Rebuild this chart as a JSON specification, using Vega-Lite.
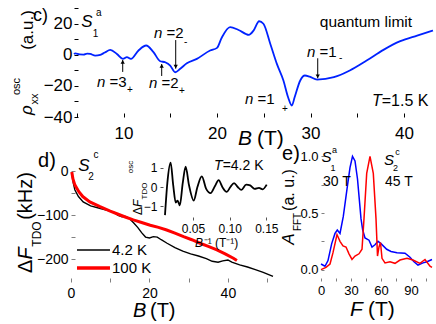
{
  "$schema": "https://vega.github.io/schema/vega-lite/v6.json",
  "width": 436,
  "height": 324,
  "autosize": {"type": "none"},
  "padding": 0,
  "config": {
    "view": {"stroke": null},
    "font": "Liberation Sans",
    "text": {"font": "Liberation Sans", "color": "black", "baseline": "middle"},
    "axis": {"grid": false, "domain": false, "labelFont": "Liberation Sans", "labelColor": "black", "labelFlush": false, "labelOverlap": false}
  },
  "datasets": {
    "cline": [{"x":4.7,"y":0.5},{"x":4.84,"y":1.0},{"x":5.3,"y":0.3},{"x":5.72,"y":0.2},{"x":6.1,"y":0.8},{"x":6.44,"y":0.6},{"x":6.97,"y":-0.5},{"x":7.51,"y":0},{"x":8.0,"y":1.5},{"x":8.58,"y":3.2},{"x":9.29,"y":0.6},{"x":9.93,"y":-2.6},{"x":10.36,"y":-1.5},{"x":10.79,"y":-2.6},{"x":11.6,"y":2.8},{"x":12.42,"y":6},{"x":13.2,"y":1.7},{"x":13.92,"y":-4.1},{"x":14.46,"y":-4.8},{"x":14.99,"y":-6.9},{"x":15.52,"y":-11.2},{"x":16.06,"y":-9},{"x":16.77,"y":-5.4},{"x":17.84,"y":-2.6},{"x":19.26,"y":2.8},{"x":20.0,"y":4.5},{"x":20.5,"y":11},{"x":21.4,"y":17.8},{"x":22.3,"y":16},{"x":23.4,"y":12.9},{"x":23.9,"y":15.6},{"x":24.5,"y":21.6},{"x":24.96,"y":20},{"x":25.7,"y":7},{"x":26.4,"y":-5.8},{"x":27.1,"y":-16.5},{"x":27.6,"y":-27.3},{"x":28.0,"y":-32.6},{"x":28.3,"y":-27.3},{"x":28.9,"y":-16.5},{"x":29.4,"y":-13.3},{"x":29.9,"y":-14.0},{"x":30.7,"y":-15.9},{"x":32.5,"y":-14.4},{"x":34.2,"y":-10.1},{"x":36.0,"y":-3.7},{"x":37.8,"y":3.2},{"x":39.6,"y":8.8},{"x":41.4,"y":12.4},{"x":43.1,"y":15.6}],
    "c_arr": [{"x":9.91,"y":-11.0,"y2":-3.3},{"x":14.08,"y":-13.6,"y2":-5.9},{"x":15.58,"y":9.5,"y2":-8.9},{"x":30.77,"y":-2.2,"y2":-15.1}],
    "c_up": [{"x":9.91,"y":-4.5},{"x":14.08,"y":-7.1}],
    "c_dn": [{"x":15.58,"y":-7.6},{"x":30.77,"y":-13.8}],
    "c_ni": [{"x":7.16,"y":-17.48,"t":"n"},{"x":12.72,"y":-18.12,"t":"n"},{"x":13.26,"y":14.05,"t":"n"},{"x":22.99,"y":-28.42,"t":"n"},{"x":29.62,"y":1.83,"t":"n"}],
    "c_eq": [{"x":8.5,"y":-17.48,"t":"=3"},{"x":14.06,"y":-18.12,"t":"=2"},{"x":14.59,"y":14.05,"t":"=2"},{"x":24.33,"y":-28.42,"t":"=1"},{"x":30.96,"y":1.83,"t":"=1"}],
    "c_sub": [{"x":10.37,"y":-22.63,"t":"+"},{"x":15.93,"y":-23.27,"t":"+"},{"x":16.47,"y":8.26,"t":"-"},{"x":26.95,"y":-34.85,"t":"+"},{"x":33.05,"y":-2.04,"t":"-"}],
    "c_q": [{"x":35.93,"y":21.13,"t":"quantum limit"}],
    "c_Ti": [{"x":36.57,"y":-29.51,"t":"T"}],
    "c_T": [{"x":37.62,"y":-29.51,"t":"=1.5 K"}],
    "c_S": [{"x":6.09,"y":21.13,"t":"S"}],
    "c_Ssub": [{"x":7.0,"y":13.4,"t":"1"},{"x":7.35,"y":26.9,"t":"a"}],
    "c_lab": [{"x":1.12,"y":24.67,"t":"c)"}],
    "c_yt": [{"x":-0.19,"y":15.98,"t":"(a.u.)"}],
    "c_rho": [{"x":-0.33,"y":-35.5,"t":"ρ"}],
    "c_ysub": [{"x":0.53,"y":-28.42,"t":"xx"},{"x":-1.45,"y":-20.37,"t":"osc"}],
    "c_xB": [{"x":22.24,"y":-54.2,"t":"B"}],
    "c_xT": [{"x":24.27,"y":-54.2,"t":"(T)"}],
    "dblack": [{"x":0.2,"y":-5},{"x":0.6,"y":-28},{"x":1.0,"y":-43},{"x":1.9,"y":-58},{"x":3.1,"y":-70},{"x":5.0,"y":-79},{"x":7.5,"y":-85},{"x":9.5,"y":-90},{"x":11.0,"y":-94},{"x":12.0,"y":-101},{"x":13.0,"y":-104},{"x":14.0,"y":-103},{"x":15.0,"y":-109},{"x":16.0,"y":-118},{"x":17.0,"y":-128},{"x":18.0,"y":-140},{"x":19.0,"y":-150},{"x":20.0,"y":-152},{"x":21.0,"y":-149},{"x":22.0,"y":-150},{"x":23.0,"y":-156},{"x":24.5,"y":-164},{"x":26.5,"y":-174},{"x":28.5,"y":-182},{"x":30.5,"y":-188},{"x":32.5,"y":-193},{"x":34.5,"y":-199},{"x":36.0,"y":-205},{"x":37.5,"y":-207},{"x":38.7,"y":-204},{"x":40.0,"y":-202},{"x":41.0,"y":-207},{"x":43.0,"y":-213},{"x":45.0,"y":-218},{"x":47.0,"y":-224},{"x":49.0,"y":-230},{"x":51.5,"y":-239}],
    "dred": [{"x":0.2,"y":-2},{"x":0.5,"y":-18},{"x":1.0,"y":-32},{"x":2.0,"y":-47},{"x":3.0,"y":-58},{"x":4.8,"y":-70},{"x":7.4,"y":-81},{"x":10.0,"y":-91},{"x":11.7,"y":-97},{"x":14.0,"y":-105},{"x":15.9,"y":-111},{"x":18.0,"y":-117},{"x":20.2,"y":-123},{"x":22.3,"y":-128},{"x":24.4,"y":-134},{"x":26.5,"y":-141},{"x":28.7,"y":-149},{"x":30.8,"y":-156},{"x":32.9,"y":-164},{"x":35.0,"y":-171},{"x":37.2,"y":-179},{"x":39.3,"y":-188},{"x":41.4,"y":-198},{"x":42.3,"y":-203}],
    "d_legk": [{"x":1.53,"x2":9.94,"y":-179.3}],
    "d_legr": [{"x":1.53,"x2":9.94,"y":-220.2}],
    "d_leg": [{"x":10.45,"y":-179.3,"t":"4.2 K"},{"x":10.45,"y":-220.2,"t":"100 K"}],
    "d_lab": [{"x":-6.12,"y":22.75,"t":"d)"}],
    "d_yt": [{"x":-11.47,"y":-216.4,"t":"Δ"},{"x":-11.47,"y":-56.7,"t":"(kHz)"}],
    "d_F": [{"x":-11.47,"y":-187.3,"t":"F"}],
    "d_sub": [{"x":-8.67,"y":-143.0,"t":"TDO"}],
    "d_S": [{"x":3.31,"y":11.4,"t":"S"}],
    "d_Ssub": [{"x":5.1,"y":-13.6,"t":"2"},{"x":6.37,"y":36.4,"t":"c"}],
    "d_xB": [{"x":15.81,"y":-317.8,"t":"B"}],
    "d_xT": [{"x":20.14,"y":-317.8,"t":"(T)"}],
    "ins": [{"x":0.0118,"y":-1.45},{"x":0.015,"y":0.2},{"x":0.0195,"y":1.25},{"x":0.023,"y":0.1},{"x":0.0265,"y":-0.8},{"x":0.029,"y":-0.7},{"x":0.032,"y":-0.95},{"x":0.036,"y":0.2},{"x":0.04,"y":1.05},{"x":0.0445,"y":0.1},{"x":0.051,"y":-0.7},{"x":0.056,"y":0.0},{"x":0.062,"y":0.55},{"x":0.068,"y":-0.1},{"x":0.074,"y":-0.32},{"x":0.08,"y":0.05},{"x":0.085,"y":0.35},{"x":0.09,"y":0.0},{"x":0.096,"y":-0.25},{"x":0.101,"y":0.0},{"x":0.106,"y":0.2},{"x":0.111,"y":0.0},{"x":0.116,"y":-0.15},{"x":0.1225,"y":0.12},{"x":0.128,"y":0.08},{"x":0.134,"y":-0.1},{"x":0.14,"y":-0.05},{"x":0.145,"y":-0.12},{"x":0.1505,"y":0.12}],
    "i_D": [{"x":-0.025,"y":-1.237,"t":"Δ"}],
    "i_F": [{"x":-0.025,"y":-0.84,"t":"F"}],
    "i_sub": [{"x":-0.0148,"y":-0.206,"t":"TDO"},{"x":-0.0345,"y":1.03,"t":"osc"}],
    "i_xB": [{"x":0.0527,"y":-2.885,"t":"B"}],
    "i_xr": [{"x":0.0646,"y":-2.885,"t":"⁻¹ (T⁻¹)"}],
    "i_Ti": [{"x":0.0786,"y":1.082,"t":"T"}],
    "i_T": [{"x":0.0904,"y":1.082,"t":"=4.2 K"}],
    "eblue": [{"x":0,"y":0.05},{"x":4,"y":0.03},{"x":7,"y":0.08},{"x":10.7,"y":0.23},{"x":14,"y":0.32},{"x":16.3,"y":0.35},{"x":19,"y":0.32},{"x":22.3,"y":0.47},{"x":26.3,"y":0.73},{"x":29,"y":0.9},{"x":31.5,"y":1.0},{"x":34,"y":0.96},{"x":36.5,"y":0.8},{"x":38.3,"y":0.62},{"x":40,"y":0.45},{"x":41.7,"y":0.35},{"x":44,"y":0.28},{"x":48,"y":0.26},{"x":51,"y":0.2},{"x":54,"y":0.22},{"x":57,"y":0.25},{"x":60,"y":0.23},{"x":65.7,"y":0.18},{"x":70,"y":0.16},{"x":76,"y":0.15},{"x":84,"y":0.145},{"x":89,"y":0.11},{"x":93,"y":0.07},{"x":97,"y":0.04},{"x":102,"y":0.06},{"x":106,"y":0.07},{"x":111,"y":0.09}],
    "ered": [{"x":0,"y":0.0},{"x":5,"y":0.02},{"x":9,"y":0.05},{"x":12,"y":0.15},{"x":16,"y":0.31},{"x":19,"y":0.25},{"x":22,"y":0.21},{"x":25,"y":0.2},{"x":28,"y":0.14},{"x":31,"y":0.09},{"x":34,"y":0.12},{"x":38,"y":0.14},{"x":41,"y":0.18},{"x":43,"y":0.45},{"x":45.7,"y":0.85},{"x":49,"y":1.0},{"x":52.3,"y":0.85},{"x":55,"y":0.45},{"x":56.5,"y":0.12},{"x":58,"y":0.2},{"x":59.5,"y":0.24},{"x":61,"y":0.1},{"x":64,"y":0.06},{"x":69,"y":0.07},{"x":74,"y":0.056},{"x":79,"y":0.085},{"x":86,"y":0.1},{"x":92,"y":0.085},{"x":99,"y":0.056},{"x":104,"y":0.09},{"x":109,"y":0.03},{"x":111,"y":0.02}],
    "e_lab": [{"x":-30,"y":1.021,"t":"e)"}],
    "e_yt": [{"x":-32,"y":0.703,"t":"(a. u.)"}],
    "e_ysub": [{"x":-23,"y":0.421,"t":"FFT"}],
    "e_A": [{"x":-32,"y":0.271,"t":"A"}],
    "e_xF": [{"x":29,"y":-0.352,"t":"F"}],
    "e_xT": [{"x":47,"y":-0.352,"t":"(T)"}],
    "e_S": [{"x":5.5,"y":0.99,"t":"S"},{"x":68,"y":0.968,"t":"S"}],
    "e_sub": [{"x":12,"y":0.897,"t":"1"},{"x":13.5,"y":1.052,"t":"a"},{"x":74.5,"y":0.9,"t":"2"},{"x":76.5,"y":1.034,"t":"c"}],
    "e_val": [{"x":2,"y":0.776,"t":"30 T"},{"x":64,"y":0.776,"t":"45 T"}]
  },
  "layer": [
    {
      "layer": [
        {"data": {"name": "cline"}, "mark": {"type": "line", "color": "#0022ff", "strokeWidth": 1.8, "interpolate": "monotone"},
         "encoding": {
           "x": {"field": "x", "type": "quantitative", "scale": {"domain": [4.7, 43.1], "range": [74, 433], "nice": false, "zero": false},
                 "axis": {"orient": "bottom", "offset": -207, "title": null, "values": [5,10,15,20,25,30,35,40], "labelExpr": "datum.value % 10 == 0 ? datum.label : ''", "tickSize": -4, "tickColor": "black", "labelPadding": 12, "labelFontSize": 17}},
           "y": {"field": "y", "type": "quantitative", "scale": {"domain": [-40, 34], "range": [117, 2], "nice": false, "zero": false},
                 "axis": {"orient": "left", "offset": -74, "title": null, "values": [-40,-30,-20,-10,0,10,20,30], "labelExpr": "datum.value % 20 == 0 ? datum.label : ''", "tickSize": -4, "tickColor": "black", "labelPadding": 6, "labelFontSize": 17}}}},
        {"mark": {"type": "rule", "color": "black", "strokeWidth": 1.5, "strokeDash": [6, 4]},
         "encoding": {"x": {"datum": 28.0, "type": "quantitative"}, "y": {"datum": -40, "type": "quantitative"}, "y2": {"datum": 34}}},
        {"data": {"name": "c_arr"}, "mark": {"type": "rule", "color": "black", "strokeWidth": 1},
         "encoding": {"x": {"field": "x", "type": "quantitative"}, "y": {"field": "y", "type": "quantitative"}, "y2": {"field": "y2"}}},
        {"data": {"name": "c_up"}, "mark": {"type": "point", "shape": "triangle-up", "filled": true, "color": "black", "size": 18, "opacity": 1},
         "encoding": {"x": {"field": "x", "type": "quantitative"}, "y": {"field": "y", "type": "quantitative"}}},
        {"data": {"name": "c_dn"}, "mark": {"type": "point", "shape": "triangle-down", "filled": true, "color": "black", "size": 18, "opacity": 1},
         "encoding": {"x": {"field": "x", "type": "quantitative"}, "y": {"field": "y", "type": "quantitative"}}},
        {"data": {"name": "c_ni"}, "mark": {"type": "text", "fontSize": 15, "fontStyle": "italic", "align": "left"},
         "encoding": {"x": {"field": "x", "type": "quantitative"}, "y": {"field": "y", "type": "quantitative"}, "text": {"field": "t"}}},
        {"data": {"name": "c_eq"}, "mark": {"type": "text", "fontSize": 15, "align": "left"},
         "encoding": {"x": {"field": "x", "type": "quantitative"}, "y": {"field": "y", "type": "quantitative"}, "text": {"field": "t"}}},
        {"data": {"name": "c_sub"}, "mark": {"type": "text", "fontSize": 10, "align": "left"},
         "encoding": {"x": {"field": "x", "type": "quantitative"}, "y": {"field": "y", "type": "quantitative"}, "text": {"field": "t"}}},
        {"data": {"name": "c_q"}, "mark": {"type": "text", "fontSize": 15.5, "align": "center"},
         "encoding": {"x": {"field": "x", "type": "quantitative"}, "y": {"field": "y", "type": "quantitative"}, "text": {"field": "t"}}},
        {"data": {"name": "c_Ti"}, "mark": {"type": "text", "fontSize": 16, "fontStyle": "italic", "align": "left"},
         "encoding": {"x": {"field": "x", "type": "quantitative"}, "y": {"field": "y", "type": "quantitative"}, "text": {"field": "t"}}},
        {"data": {"name": "c_T"}, "mark": {"type": "text", "fontSize": 16, "align": "left"},
         "encoding": {"x": {"field": "x", "type": "quantitative"}, "y": {"field": "y", "type": "quantitative"}, "text": {"field": "t"}}},
        {"data": {"name": "c_S"}, "mark": {"type": "text", "fontSize": 17, "fontStyle": "italic", "align": "center"},
         "encoding": {"x": {"field": "x", "type": "quantitative"}, "y": {"field": "y", "type": "quantitative"}, "text": {"field": "t"}}},
        {"data": {"name": "c_Ssub"}, "mark": {"type": "text", "fontSize": 10, "align": "center"},
         "encoding": {"x": {"field": "x", "type": "quantitative"}, "y": {"field": "y", "type": "quantitative"}, "text": {"field": "t"}}},
        {"data": {"name": "c_lab"}, "mark": {"type": "text", "fontSize": 18, "align": "center"},
         "encoding": {"x": {"field": "x", "type": "quantitative"}, "y": {"field": "y", "type": "quantitative"}, "text": {"field": "t"}}},
        {"data": {"name": "c_yt"}, "mark": {"type": "text", "fontSize": 17, "align": "center", "angle": 270},
         "encoding": {"x": {"field": "x", "type": "quantitative"}, "y": {"field": "y", "type": "quantitative"}, "text": {"field": "t"}}},
        {"data": {"name": "c_rho"}, "mark": {"type": "text", "fontSize": 17, "fontStyle": "italic", "align": "center", "angle": 270},
         "encoding": {"x": {"field": "x", "type": "quantitative"}, "y": {"field": "y", "type": "quantitative"}, "text": {"field": "t"}}},
        {"data": {"name": "c_ysub"}, "mark": {"type": "text", "fontSize": 11, "align": "center", "angle": 270},
         "encoding": {"x": {"field": "x", "type": "quantitative"}, "y": {"field": "y", "type": "quantitative"}, "text": {"field": "t"}}},
        {"data": {"name": "c_xB"}, "mark": {"type": "text", "fontSize": 21, "fontStyle": "italic", "align": "left"},
         "encoding": {"x": {"field": "x", "type": "quantitative"}, "y": {"field": "y", "type": "quantitative"}, "text": {"field": "t"}}},
        {"data": {"name": "c_xT"}, "mark": {"type": "text", "fontSize": 21, "align": "left"},
         "encoding": {"x": {"field": "x", "type": "quantitative"}, "y": {"field": "y", "type": "quantitative"}, "text": {"field": "t"}}},
        {"mark": {"type": "rect", "filled": false, "stroke": "black", "strokeWidth": 1.2},
         "encoding": {"x": {"datum": 4.7, "type": "quantitative"}, "x2": {"datum": 43.1}, "y": {"datum": -40, "type": "quantitative"}, "y2": {"datum": 34}}}
      ]
    },
    {
      "layer": [
        {"data": {"name": "dblack"}, "mark": {"type": "line", "color": "black", "strokeWidth": 1.4},
         "encoding": {
           "x": {"field": "x", "type": "quantitative", "scale": {"domain": [0, 51.5], "range": [71, 273], "nice": false, "zero": false},
                 "axis": {"orient": "bottom", "offset": -42, "title": null, "values": [0,10,20,30,40,50], "labelExpr": "datum.value % 20 == 0 ? datum.label : ''", "tickSize": -4, "tickColor": "#808080", "labelPadding": 8, "labelFontSize": 14}},
           "y": {"field": "y", "type": "quantitative", "scale": {"domain": [-252, 50], "range": [282, 149], "nice": false, "zero": false},
                 "axis": {"orient": "left", "offset": -71, "title": null, "values": [-200,-150,-100,-50,0], "labelExpr": "datum.value % 100 == 0 ? datum.label : ''", "tickSize": -4, "tickColor": "#808080", "labelPadding": 7, "labelFontSize": 14}}}},
        {"data": {"name": "dred"}, "mark": {"type": "line", "color": "#ff0000", "strokeWidth": 3},
         "encoding": {"x": {"field": "x", "type": "quantitative"}, "y": {"field": "y", "type": "quantitative"}}},
        {"data": {"name": "d_legk"}, "mark": {"type": "rule", "color": "black", "strokeWidth": 1.6},
         "encoding": {"x": {"field": "x", "type": "quantitative"}, "x2": {"field": "x2"}, "y": {"field": "y", "type": "quantitative"}}},
        {"data": {"name": "d_legr"}, "mark": {"type": "rule", "color": "#ff0000", "strokeWidth": 3.5},
         "encoding": {"x": {"field": "x", "type": "quantitative"}, "x2": {"field": "x2"}, "y": {"field": "y", "type": "quantitative"}}},
        {"data": {"name": "d_leg"}, "mark": {"type": "text", "fontSize": 15, "align": "left"},
         "encoding": {"x": {"field": "x", "type": "quantitative"}, "y": {"field": "y", "type": "quantitative"}, "text": {"field": "t"}}},
        {"data": {"name": "d_lab"}, "mark": {"type": "text", "fontSize": 20, "align": "center"},
         "encoding": {"x": {"field": "x", "type": "quantitative"}, "y": {"field": "y", "type": "quantitative"}, "text": {"field": "t"}}},
        {"data": {"name": "d_yt"}, "mark": {"type": "text", "fontSize": 20, "align": "center", "angle": 270},
         "encoding": {"x": {"field": "x", "type": "quantitative"}, "y": {"field": "y", "type": "quantitative"}, "text": {"field": "t"}}},
        {"data": {"name": "d_F"}, "mark": {"type": "text", "fontSize": 20, "fontStyle": "italic", "align": "center", "angle": 270},
         "encoding": {"x": {"field": "x", "type": "quantitative"}, "y": {"field": "y", "type": "quantitative"}, "text": {"field": "t"}}},
        {"data": {"name": "d_sub"}, "mark": {"type": "text", "fontSize": 12, "align": "center", "angle": 270},
         "encoding": {"x": {"field": "x", "type": "quantitative"}, "y": {"field": "y", "type": "quantitative"}, "text": {"field": "t"}}},
        {"data": {"name": "d_S"}, "mark": {"type": "text", "fontSize": 17, "fontStyle": "italic", "align": "center"},
         "encoding": {"x": {"field": "x", "type": "quantitative"}, "y": {"field": "y", "type": "quantitative"}, "text": {"field": "t"}}},
        {"data": {"name": "d_Ssub"}, "mark": {"type": "text", "fontSize": 10, "align": "center"},
         "encoding": {"x": {"field": "x", "type": "quantitative"}, "y": {"field": "y", "type": "quantitative"}, "text": {"field": "t"}}},
        {"data": {"name": "d_xB"}, "mark": {"type": "text", "fontSize": 20, "fontStyle": "italic", "align": "left"},
         "encoding": {"x": {"field": "x", "type": "quantitative"}, "y": {"field": "y", "type": "quantitative"}, "text": {"field": "t"}}},
        {"data": {"name": "d_xT"}, "mark": {"type": "text", "fontSize": 20, "align": "left"},
         "encoding": {"x": {"field": "x", "type": "quantitative"}, "y": {"field": "y", "type": "quantitative"}, "text": {"field": "t"}}},
        {"mark": {"type": "rect", "filled": false, "stroke": "#808080", "strokeWidth": 1.8},
         "encoding": {"x": {"datum": 0, "type": "quantitative"}, "x2": {"datum": 51.5}, "y": {"datum": -252, "type": "quantitative"}, "y2": {"datum": 50}}}
      ]
    },
    {
      "layer": [
        {"data": {"name": "ins"}, "mark": {"type": "line", "color": "black", "strokeWidth": 1.8, "interpolate": "monotone"},
         "encoding": {
           "x": {"field": "x", "type": "quantitative", "scale": {"domain": [0.005, 0.155], "range": [160, 270], "nice": false, "zero": false},
                 "axis": {"orient": "bottom", "offset": -104, "title": null, "values": [0.05, 0.1, 0.15], "format": ".2f", "tickSize": -3, "tickColor": "#555555", "labelPadding": 6, "labelFontSize": 12}},
           "y": {"field": "y", "type": "quantitative", "scale": {"domain": [-1.7, 1.7], "range": [220, 154], "nice": false, "zero": false},
                 "axis": {"orient": "left", "offset": -160, "title": null, "values": [-1, 0, 1], "format": ".0f", "tickSize": -3, "tickColor": "#555555", "labelPadding": 6, "labelFontSize": 12, "zindex": 2}}}},
        {"data": {"name": "i_D"}, "mark": {"type": "text", "fontSize": 12, "align": "center", "angle": 270},
         "encoding": {"x": {"field": "x", "type": "quantitative"}, "y": {"field": "y", "type": "quantitative"}, "text": {"field": "t"}}},
        {"data": {"name": "i_F"}, "mark": {"type": "text", "fontSize": 12, "fontStyle": "italic", "align": "center", "angle": 270},
         "encoding": {"x": {"field": "x", "type": "quantitative"}, "y": {"field": "y", "type": "quantitative"}, "text": {"field": "t"}}},
        {"data": {"name": "i_sub"}, "mark": {"type": "text", "fontSize": 8, "align": "center", "angle": 270},
         "encoding": {"x": {"field": "x", "type": "quantitative"}, "y": {"field": "y", "type": "quantitative"}, "text": {"field": "t"}}},
        {"data": {"name": "i_xB"}, "mark": {"type": "text", "fontSize": 12, "fontStyle": "italic", "align": "left"},
         "encoding": {"x": {"field": "x", "type": "quantitative"}, "y": {"field": "y", "type": "quantitative"}, "text": {"field": "t"}}},
        {"data": {"name": "i_xr"}, "mark": {"type": "text", "fontSize": 12, "align": "left"},
         "encoding": {"x": {"field": "x", "type": "quantitative"}, "y": {"field": "y", "type": "quantitative"}, "text": {"field": "t"}}},
        {"data": {"name": "i_Ti"}, "mark": {"type": "text", "fontSize": 14, "fontStyle": "italic", "align": "left"},
         "encoding": {"x": {"field": "x", "type": "quantitative"}, "y": {"field": "y", "type": "quantitative"}, "text": {"field": "t"}}},
        {"data": {"name": "i_T"}, "mark": {"type": "text", "fontSize": 14, "align": "left"},
         "encoding": {"x": {"field": "x", "type": "quantitative"}, "y": {"field": "y", "type": "quantitative"}, "text": {"field": "t"}}},
        {"mark": {"type": "rect", "filled": false, "stroke": "#555555", "strokeWidth": 1},
         "encoding": {"x": {"datum": 0.005, "type": "quantitative"}, "x2": {"datum": 0.155}, "y": {"datum": -1.7, "type": "quantitative"}, "y2": {"datum": 1.7}}}
      ]
    },
    {
      "layer": [
        {"data": {"name": "eblue"}, "mark": {"type": "line", "color": "#0000ff", "strokeWidth": 1.5},
         "encoding": {
           "x": {"field": "x", "type": "quantitative", "scale": {"domain": [0, 111], "range": [321, 432], "nice": false, "zero": false},
                 "axis": {"orient": "bottom", "offset": -43, "title": null, "values": [0,15,30,45,60,75,90,105], "labelExpr": "datum.value % 30 == 0 ? datum.label : ''", "tickSize": -3, "tickColor": "#808080", "labelPadding": 6, "labelFontSize": 13}},
           "y": {"field": "y", "type": "quantitative", "scale": {"domain": [-0.1, 1.1], "range": [281, 145], "nice": false, "zero": false},
                 "axis": {"orient": "left", "offset": -321, "title": null, "values": [0, 0.25, 0.5, 0.75, 1], "format": ".1f", "labelExpr": "datum.value % 0.5 == 0 ? datum.label : ''", "tickSize": -3, "tickColor": "#808080", "labelPadding": 6, "labelFontSize": 13}}}},
        {"data": {"name": "ered"}, "mark": {"type": "line", "color": "#ff0000", "strokeWidth": 1.5},
         "encoding": {"x": {"field": "x", "type": "quantitative"}, "y": {"field": "y", "type": "quantitative"}}},
        {"data": {"name": "e_lab"}, "mark": {"type": "text", "fontSize": 20, "align": "center"},
         "encoding": {"x": {"field": "x", "type": "quantitative"}, "y": {"field": "y", "type": "quantitative"}, "text": {"field": "t"}}},
        {"data": {"name": "e_yt"}, "mark": {"type": "text", "fontSize": 16, "align": "center", "angle": 270},
         "encoding": {"x": {"field": "x", "type": "quantitative"}, "y": {"field": "y", "type": "quantitative"}, "text": {"field": "t"}}},
        {"data": {"name": "e_ysub"}, "mark": {"type": "text", "fontSize": 10, "align": "center", "angle": 270},
         "encoding": {"x": {"field": "x", "type": "quantitative"}, "y": {"field": "y", "type": "quantitative"}, "text": {"field": "t"}}},
        {"data": {"name": "e_A"}, "mark": {"type": "text", "fontSize": 17, "fontStyle": "italic", "align": "center", "angle": 270},
         "encoding": {"x": {"field": "x", "type": "quantitative"}, "y": {"field": "y", "type": "quantitative"}, "text": {"field": "t"}}},
        {"data": {"name": "e_xF"}, "mark": {"type": "text", "fontSize": 21, "fontStyle": "italic", "align": "left"},
         "encoding": {"x": {"field": "x", "type": "quantitative"}, "y": {"field": "y", "type": "quantitative"}, "text": {"field": "t"}}},
        {"data": {"name": "e_xT"}, "mark": {"type": "text", "fontSize": 21, "align": "left"},
         "encoding": {"x": {"field": "x", "type": "quantitative"}, "y": {"field": "y", "type": "quantitative"}, "text": {"field": "t"}}},
        {"data": {"name": "e_S"}, "mark": {"type": "text", "fontSize": 15, "fontStyle": "italic", "align": "center"},
         "encoding": {"x": {"field": "x", "type": "quantitative"}, "y": {"field": "y", "type": "quantitative"}, "text": {"field": "t"}}},
        {"data": {"name": "e_sub"}, "mark": {"type": "text", "fontSize": 9, "align": "center"},
         "encoding": {"x": {"field": "x", "type": "quantitative"}, "y": {"field": "y", "type": "quantitative"}, "text": {"field": "t"}}},
        {"data": {"name": "e_val"}, "mark": {"type": "text", "fontSize": 14, "align": "left"},
         "encoding": {"x": {"field": "x", "type": "quantitative"}, "y": {"field": "y", "type": "quantitative"}, "text": {"field": "t"}}},
        {"mark": {"type": "rect", "filled": false, "stroke": "#808080", "strokeWidth": 1.8},
         "encoding": {"x": {"datum": 0, "type": "quantitative"}, "x2": {"datum": 111}, "y": {"datum": -0.1, "type": "quantitative"}, "y2": {"datum": 1.1}}}
      ]
    }
  ],
  "resolve": {"scale": {"x": "independent", "y": "independent"}, "axis": {"x": "independent", "y": "independent"}}
}
